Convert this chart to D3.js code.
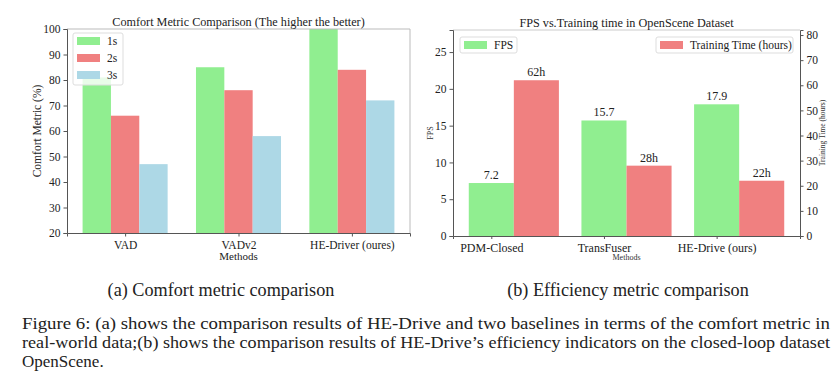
<!DOCTYPE html>
<html>
<head>
<meta charset="utf-8">
<script src="https://cdn.jsdelivr.net/npm/d3@7"></script>
<style>
    body { margin: 0; background: #fff; }
    .axis path, .axis line { stroke: #555; }
</style>
</head>
<body>
<svg id="fig" width="836" height="386"></svg>
<script>
// comfort chart (a)
const comfortMethods = ['VAD', 'VADv2', 'HE-Driver (oures)'];
const horizons = ['1s', '2s', '3s'];
const comfort1s = [81, 85, 100];
const comfort2s = [66, 76, 84];
const comfort3s = [47, 58, 72];
const comfortTicks = [20, 30, 40, 50, 60, 70, 80, 90, 100];

// efficiency chart (b)
const effMethods = ['PDM-Closed', 'TransFuser', 'HE-Drive (ours)'];
const fpsValues = [7.2, 15.7, 17.9];
const trainHours = [62, 28, 22];
const fpsTicks = [0, 5, 10, 15, 20, 25];
const hourTicks = [0, 10, 20, 30, 40, 50, 60, 70, 80];

const GREEN = '#90ee90', RED = '#f08080', BLUE = '#add8e6';
const SERIF = '"Liberation Serif", "Times New Roman", Times, serif';

const svg = d3.select('#fig').attr('font-family', SERIF);
svg.append('rect').attr('width', 836).attr('height', 386).attr('fill', '#fff');

function styleAxis(sel, fs) {
    sel.attr('font-family', SERIF).attr('font-size', fs);
    sel.selectAll('text').attr('fill', '#222');
}

function drawLegend(g, x, y, w, h, items, fs) {
    const lg = g.append('g').attr('transform', `translate(${x},${y})`);
    lg.append('rect')
        .attr('width', w).attr('height', h).attr('rx', 2)
        .attr('fill', '#fff').attr('fill-opacity', 0.8)
        .attr('stroke', '#ddd');
    items.forEach((it, i) => {
        const cy = 8 + i * 17;
        lg.append('rect').attr('x', 4).attr('y', cy - 4).attr('width', 23).attr('height', 8).attr('fill', it.color);
        lg.append('text').attr('x', 34).attr('y', cy + 4).attr('font-size', fs).attr('fill', '#222').text(it.label);
    });
}

// ---------- (a) comfort ----------
(function () {
    const left = 67, right = 410, top = 29, bottom = 233;
    const g = svg.append('g');
    const x = d3.scaleLinear().domain([-0.5125, 2.5125]).range([left, right]);
    const y = d3.scaleLinear().domain([20, 100]).range([bottom, top]);
    const bw = x(0.25) - x(0);
    const series = [comfort1s, comfort2s, comfort3s];
    const colors = [GREEN, RED, BLUE];

    series.forEach((vals, s) => {
        g.selectAll(null).data(vals).join('rect')
            .attr('x', (d, i) => x(i + (s - 1) * 0.25) - bw / 2)
            .attr('y', d => y(d))
            .attr('width', bw)
            .attr('height', d => bottom - y(d))
            .attr('fill', colors[s]);
    });

    // frame
    g.append('line').attr('x1', left).attr('x2', right).attr('y1', top).attr('y2', top).attr('stroke', '#bbb');
    g.append('line').attr('x1', right).attr('x2', right).attr('y1', top).attr('y2', bottom).attr('stroke', '#bbb');

    g.append('g').attr('class', 'axis').attr('transform', `translate(${left},0)`)
        .call(d3.axisLeft(y).tickValues(comfortTicks).tickSize(3.5).tickPadding(3))
        .call(styleAxis, 11.5);
    g.append('g').attr('class', 'axis').attr('transform', `translate(0,${bottom})`)
        .call(d3.axisBottom(x).tickValues([0, 1, 2]).tickFormat(i => comfortMethods[i]).tickSize(3.5).tickPadding(4))
        .call(styleAxis, 11.5);

    g.append('text').attr('x', (left + right) / 2).attr('y', 26).attr('text-anchor', 'middle')
        .attr('font-size', 12.2).attr('fill', '#222').text('Comfort Metric Comparison (The higher the better)');
    g.append('text').attr('x', (left + right) / 2).attr('y', 260).attr('text-anchor', 'middle')
        .attr('font-size', 11).attr('fill', '#222').text('Methods');
    g.append('text').attr('transform', `translate(41,${(top + bottom) / 2}) rotate(-90)`).attr('text-anchor', 'middle')
        .attr('font-size', 11.5).attr('fill', '#222').text('Comfort Metric (%)');

    drawLegend(g, 73, 33, 50, 52, horizons.map((h, i) => ({label: h, color: colors[i]})), 11.5);
})();

// ---------- (b) efficiency ----------
(function () {
    const left = 453, right = 800, top = 30, bottom = 236;
    const g = svg.append('g');
    const x = d3.scaleLinear().domain([-0.54, 2.54]).range([left, right]);
    const yF = d3.scaleLinear().domain([0, 28]).range([bottom, top]);
    const yH = d3.scaleLinear().domain([0, 82]).range([bottom, top]);
    const bw = x(0.4) - x(0);

    g.selectAll(null).data(fpsValues).join('rect')
        .attr('x', (d, i) => x(i - 0.2) - bw / 2)
        .attr('y', d => yF(d)).attr('width', bw)
        .attr('height', d => bottom - yF(d)).attr('fill', GREEN);
    g.selectAll(null).data(trainHours).join('rect')
        .attr('x', (d, i) => x(i + 0.2) - bw / 2)
        .attr('y', d => yH(d)).attr('width', bw)
        .attr('height', d => bottom - yH(d)).attr('fill', RED);

    g.selectAll(null).data(fpsValues).join('text')
        .attr('x', (d, i) => x(i - 0.2)).attr('y', d => yF(d) - 4)
        .attr('text-anchor', 'middle').attr('font-size', 12).attr('fill', '#222')
        .text(d => d.toFixed(1));
    g.selectAll(null).data(trainHours).join('text')
        .attr('x', (d, i) => x(i + 0.2)).attr('y', d => yH(d) - 4)
        .attr('text-anchor', 'middle').attr('font-size', 12).attr('fill', '#222')
        .text(d => d + 'h');

    g.append('line').attr('x1', left).attr('x2', right).attr('y1', top).attr('y2', top).attr('stroke', '#ccc');

    g.append('g').attr('class', 'axis').attr('transform', `translate(${left},0)`)
        .call(d3.axisLeft(yF).tickValues(fpsTicks).tickSize(3.5).tickPadding(3))
        .call(styleAxis, 11.5);
    g.append('g').attr('class', 'axis').attr('transform', `translate(${right},0)`)
        .call(d3.axisRight(yH).tickValues(hourTicks).tickSize(3.5).tickPadding(3))
        .call(styleAxis, 11.5);
    g.append('g').attr('class', 'axis').attr('transform', `translate(0,${bottom})`)
        .call(d3.axisBottom(x).tickValues([-0.2, 0.8, 1.8]).tickFormat((d, i) => effMethods[i]).tickSize(3).tickPadding(4))
        .call(styleAxis, 12);

    g.append('text').attr('x', (left + right) / 2).attr('y', 27).attr('text-anchor', 'middle')
        .attr('font-size', 12.2).attr('fill', '#222').text('FPS vs.Training time in OpenScene Dataset');
    g.append('text').attr('x', (left + right) / 2).attr('y', 260).attr('text-anchor', 'middle')
        .attr('font-size', 8).attr('fill', '#333').text('Methods');
    g.append('text').attr('transform', `translate(433,${(top + bottom) / 2}) rotate(-90)`).attr('text-anchor', 'middle')
        .attr('font-size', 8).attr('fill', '#333').text('FPS');
    g.append('text').attr('transform', `translate(825,${(top + bottom) / 2}) rotate(-90)`).attr('text-anchor', 'middle')
        .attr('font-size', 7.5).attr('fill', '#333').text('Training Time (hours)');

    drawLegend(g, 460, 37, 57, 16, [{label: 'FPS', color: GREEN}], 11.5);
    drawLegend(g, 656, 37, 137, 16, [{label: 'Training Time (hours)', color: RED}], 11.5);
})();

// ---------- captions ----------
svg.append('text').attr('x', 221).attr('y', 296).attr('text-anchor', 'middle')
    .attr('font-size', 18.2).attr('fill', '#222').text('(a) Comfort metric comparison');
svg.append('text').attr('x', 628).attr('y', 296).attr('text-anchor', 'middle')
    .attr('font-size', 18.2).attr('fill', '#222').text('(b) Efficiency metric comparison');

const captionLines = [
    'Figure 6: (a) shows the comparison results of HE-Drive and two baselines in terms of the comfort metric in',
    'real-world data;(b) shows the comparison results of HE-Drive\u2019s efficiency indicators on the closed-loop dataset',
    'OpenScene.'
];
svg.selectAll('.cap').data(captionLines).join('text')
    .attr('class', 'cap')
    .attr('x', 22).attr('y', (d, i) => 329 + i * 19)
    .attr('font-size', 17).attr('fill', '#222')
    .attr('textLength', (d, i) => i < 2 ? 808 : null)
    .attr('lengthAdjust', 'spacingAndGlyphs')
    .text(d => d);
</script>
</body>
</html>
